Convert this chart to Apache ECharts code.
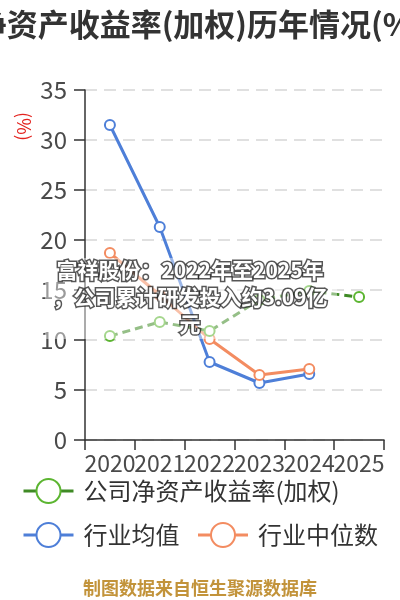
<!DOCTYPE html>
<html>
<head>
<meta charset="utf-8">
<script src="https://cdn.jsdelivr.net/npm/echarts@6/dist/echarts.min.js"></script>
<style>
html,body{margin:0;padding:0;background:#fff;}
#main{width:400px;height:600px;}
</style>
</head>
<body>
<div id="main"></div>
<script>
var titleText = '净资产收益率(加权)历年情况(%)';
var years = ['2020', '2021', '2022', '2023', '2024', '2025'];
var companyName = '公司净资产收益率(加权)';
var avgName = '行业均值';
var medianName = '行业中位数';
var companyRoe = [10.4, 11.8, 10.9, 14.0, 14.9, 14.3];
var industryAvg = [31.5, 21.3, 7.8, 5.7, 6.6, null];
var industryMedian = [18.7, 14.5, 10.1, 6.5, 7.1, null];
var yTicks = {min: 0, max: 35, interval: 5};
var unitText = '(%)';
var noteText = '富祥股份：2022年至2025年\n，公司累计研发投入约3.09亿\n元';
var sourceText = '制图数据来自恒生聚源数据库';

var FONT = '"Noto Sans CJK SC", "Noto Sans", sans-serif';
var GREEN = '#5cb531';
var BLUE = '#4e7fd8';
var ORANGE = '#f38c61';

var chart = echarts.init(document.getElementById('main'), null, {renderer: 'canvas'});
var legendText = {fontSize: 24, color: '#333', fontFamily: FONT, padding: [0, 0, 0, 5]};

chart.setOption({
  animation: false,
  backgroundColor: '#fff',
  textStyle: {fontFamily: FONT},
  title: {
    text: titleText,
    left: 'center',
    top: 4,
    textStyle: {fontSize: 31, fontWeight: 'bold', color: '#333', fontFamily: FONT}
  },
  grid: {left: 85, right: 16, top: 90, bottom: 160, containLabel: false},
  legend: [
    {
      data: [companyName],
      left: 22, top: 478, padding: 0,
      itemWidth: 50, itemHeight: 30,
      textStyle: legendText,
      lineStyle: {type: 'solid', width: 3}
    },
    {
      data: [avgName, medianName],
      left: 22, top: 522, padding: 0,
      itemWidth: 50, itemHeight: 30, itemGap: 17,
      textStyle: legendText,
      lineStyle: {type: 'solid', width: 3}
    }
  ],
  xAxis: {
    type: 'category',
    data: years,
    axisLine: {lineStyle: {color: '#333', width: 1.5}},
    axisTick: {show: true, length: 10, lineStyle: {color: '#333', width: 1.5}},
    axisLabel: {fontSize: 23, color: '#4a4a4a', margin: 12, interval: 0, fontFamily: FONT}
  },
  yAxis: {
    type: 'value',
    min: yTicks.min, max: yTicks.max, interval: yTicks.interval,
    axisLine: {show: true, lineStyle: {color: '#333', width: 1.5}},
    axisTick: {show: true, length: 11, lineStyle: {color: '#333', width: 1.5}},
    axisLabel: {fontSize: 24, color: '#4a4a4a', margin: 18, fontFamily: FONT},
    splitLine: {show: true, lineStyle: {color: '#d6d6d6', width: 1.5, type: [12, 7]}}
  },
  series: [
    {
      name: avgName, type: 'line', data: industryAvg,
      symbol: 'emptyCircle', symbolSize: 10,
      color: BLUE,
      lineStyle: {width: 3, color: BLUE},
      itemStyle: {color: BLUE, borderWidth: 2}
    },
    {
      name: medianName, type: 'line', data: industryMedian,
      symbol: 'emptyCircle', symbolSize: 10,
      color: ORANGE,
      lineStyle: {width: 3, color: ORANGE},
      itemStyle: {color: ORANGE, borderWidth: 2}
    },
    {
      name: companyName, type: 'line', data: companyRoe,
      symbol: 'emptyCircle', symbolSize: 10,
      color: GREEN,
      lineStyle: {width: 3, color: '#3f8a25', type: [8, 5]},
      itemStyle: {color: GREEN, borderWidth: 2}
    }
  ],
  graphic: [
    {
      type: 'text',
      left: 15, top: 112,
      rotation: -Math.PI / 2,
      style: {text: unitText, fontSize: 18, fill: '#e3231f', fontFamily: FONT}
    },
    {
      type: 'rect',
      z: 100,
      silent: true,
      shape: {x: 45, y: 258, width: 292, height: 81},
      style: {fill: 'rgba(255,255,255,0.45)', stroke: null, lineWidth: 0}
    },
    {
      type: 'text',
      z: 101,
      x: 190, y: 257,
      style: {
        text: noteText,
        fontSize: 21, fontWeight: 'bold', fill: '#fff',
        lineHeight: 27,
        align: 'center', verticalAlign: 'top',
        fontFamily: FONT,
        stroke: 'rgba(30,30,30,0.75)', lineWidth: 3
      }
    },
    {
      type: 'text',
      x: 200, y: 588,
      style: {
        text: sourceText, fontSize: 18, fontWeight: 'bold', fill: '#c2933a',
        align: 'center', verticalAlign: 'middle', fontFamily: FONT
      }
    }
  ]
});
</script>
</body>
</html>
